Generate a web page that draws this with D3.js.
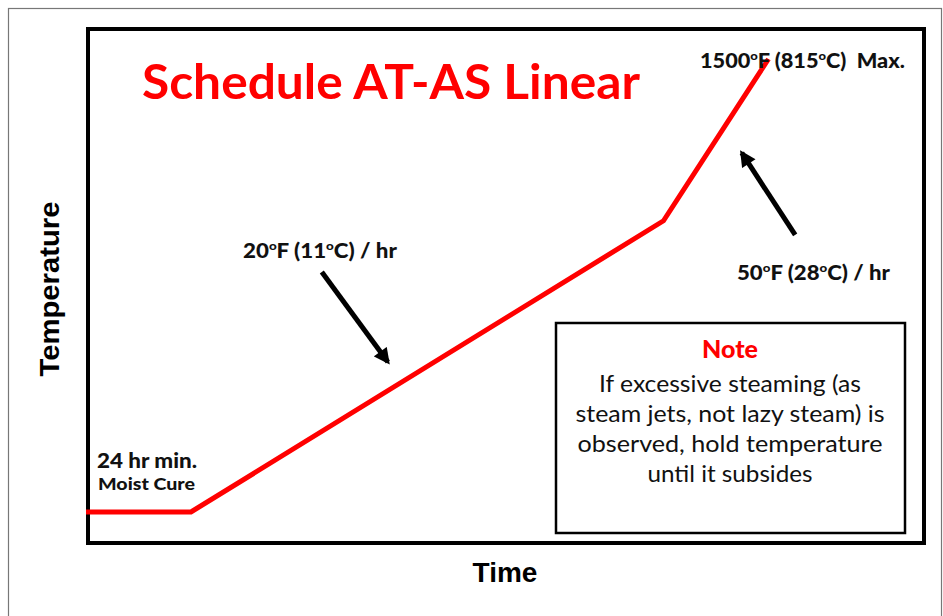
<!DOCTYPE html>
<html>
<head>
<meta charset="utf-8">
<script src="https://cdn.jsdelivr.net/npm/d3@7"></script>
<style>
  html, body { margin: 0; padding: 0; background: #fff; }
  svg text { white-space: pre; }
</style>
</head>
<body>
<div id="container"></div>
<script>
/* CONSTANTS AND GLOBALS */
const width = 943,
  height = 616,
  frame = { left: 88, top: 29, right: 924, bottom: 543 };

// schedule points: hours from start, temperature rise (schematic units)
const timeHours = [0, 24, 132, 156];
const tempRise = [0, 0, 2160, 3360];

// rate arrows: [tail, tip] in the same units
const arrowTime = [[53.9, 69.0], [162.1, 149.9]];
const arrowTemp = [[1780, 1113], [2055, 2663]];

const noteLines = [
  "If excessive steaming (as",
  "steam jets, not lazy steam) is",
  "observed, hold temperature",
  "until it subsides"
];
const noteWidths = [262, 309, 305, 165];

let svg, xScale, yScale;

function init() {
  // + SCALES
  xScale = d3.scaleLinear()
    .domain([0, 192])
    .range([86, 926]);

  yScale = d3.scaleLinear()
    .domain([0, 3360])
    .range([512, 59]);

  svg = d3.select("#container")
    .append("svg")
    .attr("width", width)
    .attr("height", height)
    .style("display", "block");

  // outer slide border
  svg.append("rect")
    .attr("x", 8.5).attr("y", 8.5)
    .attr("width", 933).attr("height", 640)
    .attr("fill", "none")
    .attr("stroke", "#777")
    .attr("stroke-width", 1.2);

  // chart frame
  svg.append("rect")
    .attr("x", frame.left).attr("y", frame.top)
    .attr("width", frame.right - frame.left)
    .attr("height", frame.bottom - frame.top)
    .attr("fill", "none")
    .attr("stroke", "#000")
    .attr("stroke-width", 4);

  // title
  svg.append("text")
    .attr("x", 142).attr("y", 99)
    .attr("font-family", "Lato")
    .attr("font-weight", 700)
    .attr("font-size", 47)
    .attr("fill", "#ff0000")
    .attr("textLength", 498)
    .attr("lengthAdjust", "spacingAndGlyphs")
    .text("Schedule AT-AS Linear");

  // axis titles
  svg.append("text")
    .attr("transform", "translate(59,289) rotate(-90)")
    .attr("text-anchor", "middle")
    .attr("font-family", "Liberation Sans, Arial")
    .attr("font-weight", 700)
    .attr("font-size", 28)
    .attr("textLength", 175)
    .attr("lengthAdjust", "spacingAndGlyphs")
    .text("Temperature");

  svg.append("text")
    .attr("x", 505).attr("y", 582)
    .attr("text-anchor", "middle")
    .attr("font-family", "Liberation Sans, Arial")
    .attr("font-weight", 700)
    .attr("font-size", 28)
    .text("Time");

  // + SCHEDULE LINE
  const pts = timeHours.map((t, i) => [t, tempRise[i]]);
  const line = d3.line()
    .x(d => xScale(d[0]))
    .y(d => yScale(d[1]));

  svg.append("path")
    .datum(pts)
    .attr("d", line)
    .attr("fill", "none")
    .attr("stroke", "#ff0000")
    .attr("stroke-width", 5)
    .attr("stroke-linejoin", "miter");

  // + ARROWS
  svg.append("defs").append("marker")
    .attr("id", "head")
    .attr("viewBox", "0 0 10 10")
    .attr("refX", 8).attr("refY", 5)
    .attr("markerWidth", 3.4).attr("markerHeight", 3.2)
    .attr("markerUnits", "strokeWidth")
    .attr("orient", "auto")
    .append("path")
    .attr("d", "M0,0 L10,5 L0,10 Z")
    .attr("fill", "#000");

  svg.selectAll(".arrow")
    .data(arrowTime.map((t, i) => ({ t: t, v: arrowTemp[i] })))
    .join("line")
    .attr("class", "arrow")
    .attr("x1", d => xScale(d.t[0]))
    .attr("y1", d => yScale(d.v[0]))
    .attr("x2", d => xScale(d.t[1]))
    .attr("y2", d => yScale(d.v[1]))
    .attr("stroke", "#000")
    .attr("stroke-width", 5)
    .attr("marker-end", "url(#head)");

  // + LABELS
  // degree marks are a small raised "o", placed as their own text pieces
  const degLabel = (x, y, parts, len) => {
    const g = svg.append("g");
    const t = g.append("text")
      .attr("x", x).attr("y", y)
      .attr("font-family", "Lato")
      .attr("font-weight", 900)
      .attr("font-size", 20)
      .attr("fill", "#111");
    parts.forEach(p => {
      if (p === "o") {
        t.append("tspan").attr("font-size", 12).attr("dy", -8).text("o");
      } else {
        t.append("tspan").attr("dy", t.selectAll("tspan").size() ? 8 : 0).text(p);
      }
    });
    // stretch to the measured width
    const w = t.node().getComputedTextLength();
    t.attr("transform", `translate(${x},0) scale(${len / w},1) translate(${-x},0)`);
  };

  degLabel(700, 60, ["1500", "o", "F (815", "o", "C)  Max."], 205);
  degLabel(243, 250, ["20", "o", "F (11", "o", "C) / hr"], 154);
  degLabel(737, 272, ["50", "o", "F (28", "o", "C) / hr"], 153);

  svg.append("text")
    .attr("x", 97).attr("y", 468)
    .attr("font-family", "Lato").attr("font-weight", 900)
    .attr("font-size", 20).attr("fill", "#111")
    .attr("textLength", 100).attr("lengthAdjust", "spacingAndGlyphs")
    .text("24 hr min.");

  svg.append("text")
    .attr("x", 98).attr("y", 490)
    .attr("font-family", "Lato").attr("font-weight", 900)
    .attr("font-size", 17).attr("fill", "#111")
    .attr("textLength", 97).attr("lengthAdjust", "spacingAndGlyphs")
    .text("Moist Cure");

  // + NOTE BOX
  svg.append("rect")
    .attr("x", 556).attr("y", 323)
    .attr("width", 349).attr("height", 210)
    .attr("fill", "#fff")
    .attr("stroke", "#000")
    .attr("stroke-width", 2.5);

  svg.append("text")
    .attr("x", 730).attr("y", 358)
    .attr("text-anchor", "middle")
    .attr("font-family", "Lato").attr("font-weight", 900)
    .attr("font-size", 25).attr("fill", "#ff0000")
    .text("Note");

  svg.selectAll(".note-line")
    .data(noteLines)
    .join("text")
    .attr("class", "note-line")
    .attr("x", 730)
    .attr("y", (d, i) => 392 + i * 30)
    .attr("text-anchor", "middle")
    .attr("font-family", "Lato")
    .attr("font-size", 23)
    .attr("fill", "#111")
    .attr("textLength", (d, i) => noteWidths[i])
    .attr("lengthAdjust", "spacingAndGlyphs")
    .text(d => d);
}

init();
</script>
</body>
</html>
